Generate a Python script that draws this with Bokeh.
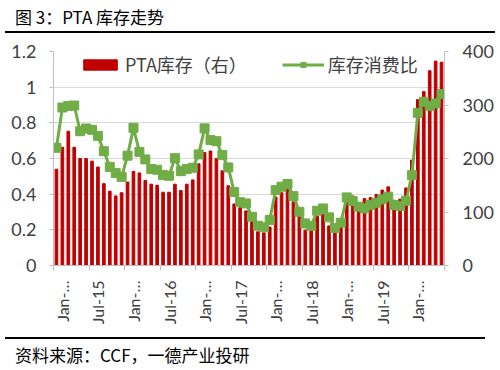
import math
from bokeh.plotting import figure
from bokeh.models import Range1d, LinearAxis, FixedTicker, CustomJSTickFormatter, Div
from bokeh.layouts import column
from bokeh.embed import file_html
from bokeh.resources import INLINE

# ---- data (monthly, Dec-14 .. May-20) ----
months = ["Dec-14",
          "Jan-15", "Feb-15", "Mar-15", "Apr-15", "May-15", "Jun-15", "Jul-15", "Aug-15", "Sep-15", "Oct-15", "Nov-15", "Dec-15",
          "Jan-16", "Feb-16", "Mar-16", "Apr-16", "May-16", "Jun-16", "Jul-16", "Aug-16", "Sep-16", "Oct-16", "Nov-16", "Dec-16",
          "Jan-17", "Feb-17", "Mar-17", "Apr-17", "May-17", "Jun-17", "Jul-17", "Aug-17", "Sep-17", "Oct-17", "Nov-17", "Dec-17",
          "Jan-18", "Feb-18", "Mar-18", "Apr-18", "May-18", "Jun-18", "Jul-18", "Aug-18", "Sep-18", "Oct-18", "Nov-18", "Dec-18",
          "Jan-19", "Feb-19", "Mar-19", "Apr-19", "May-19", "Jun-19", "Jul-19", "Aug-19", "Sep-19", "Oct-19", "Nov-19", "Dec-19",
          "Jan-20", "Feb-20", "Mar-20", "Apr-20", "May-20"]

# PTA inventory (right axis)
pta_inventory = [180,
                 221, 251, 221, 200, 200, 195, 184, 153, 139, 130, 136, 156,
                 176, 173, 159, 152, 150, 137, 137, 152, 140, 152, 160, 190,
                 211, 214, 200, 177, 149, 115, 108, 102, 82, 63, 61, 72,
                 128, 136, 142, 119, 100, 66, 65, 92, 96, 74, 66, 76,
                 133, 130, 111, 125, 127, 133, 141, 147, 122, 124, 145, 197,
                 310, 325, 364, 382, 380]

# inventory / consumption ratio (left axis)
stock_ratio = [0.66,
               0.886, 0.895, 0.897, 0.753, 0.768, 0.761, 0.727, 0.641, 0.553, 0.518, 0.497, 0.616,
               0.772, 0.637, 0.595, 0.541, 0.537, 0.507, 0.503, 0.602, 0.529, 0.541, 0.548, 0.623,
               0.769, 0.703, 0.697, 0.619, 0.55, 0.412, 0.355, 0.348, 0.273, 0.223, 0.214, 0.255,
               0.423, 0.442, 0.457, 0.389, 0.301, 0.236, 0.221, 0.307, 0.32, 0.27, 0.21, 0.24,
               0.382, 0.361, 0.33, 0.32, 0.339, 0.352, 0.371, 0.386, 0.339, 0.333, 0.363, 0.507,
               0.856, 0.918, 0.894, 0.909, 0.961]

tick_months = ["Jan-15", "Jul-15", "Jan-16", "Jul-16", "Jan-17", "Jul-17",
               "Jan-18", "Jul-18", "Jan-19", "Jul-19", "Jan-20"]
tick_labels = ["Jan-…", "Jul-15", "Jan-…", "Jul-16", "Jan-…", "Jul-17",
               "Jan-…", "Jul-18", "Jan-…", "Jul-19", "Jan-…"]
left_ticks = [0, 0.2, 0.4, 0.6, 0.8, 1.0, 1.2]
right_ticks = [0, 100, 200, 300, 400]

bar_label = "PTA库存（右）"
line_label = "库存消费比"
title_text = "图 3：PTA 库存走势"
source_text = "资料来源：CCF，一德产业投研"

# ---- build ----
xs = list(range(len(months)))
tick_idx = [months.index(m) for m in tick_months]
boundaries = [i - 0.5 for i in range(0, len(months) + 1, 6)]

NUM_FONT = "Lato"
CJK_FONT = "Noto Sans CJK SC"
TXT = "#404040"
AX = "#bfbfbf"

p = figure(width=496, height=300, x_range=Range1d(-0.5, len(months) - 0.5),
           y_range=Range1d(0, 1.2), output_backend="svg", toolbar_location=None,
           min_border_left=53, min_border_right=50, min_border_top=17, min_border_bottom=69)
p.extra_y_ranges = {"right": Range1d(0, 400)}

p.vbar(x=xs, top=pta_inventory, width=0.45, color="#c00000",
       y_range_name="right", legend_label=bar_label)
p.line(xs, stock_ratio, color="#70ad47", line_width=3, legend_label=line_label)
p.scatter(xs, stock_ratio, marker="square", size=9, color="#70ad47", legend_label=line_label)

# x axis
xa = p.xaxis[0]
xa.ticker = FixedTicker(ticks=tick_idx, minor_ticks=boundaries)
xa.major_label_overrides = {i: l for i, l in zip(tick_idx, tick_labels)}
xa.major_label_orientation = math.pi / 2
xa.major_tick_line_color = None
xa.major_tick_out = 0
xa.major_tick_in = 0
xa.minor_tick_out = 5
xa.minor_tick_in = 0
xa.minor_tick_line_color = AX
xa.axis_line_color = AX
xa.major_label_text_font = NUM_FONT
xa.major_label_text_font_size = "16px"
xa.major_label_text_color = TXT
xa.major_label_standoff = 10

# left axis
ya = p.yaxis[0]
ya.ticker = FixedTicker(ticks=left_ticks)
ya.formatter = CustomJSTickFormatter(code="return (Math.round(tick*10)/10).toString();")
ya.major_tick_out = 4
ya.major_tick_in = 0
ya.minor_tick_line_color = None
ya.major_tick_line_color = AX
ya.axis_line_color = AX
ya.major_label_text_font = NUM_FONT
ya.major_label_text_font_size = "18px"
ya.major_label_text_color = TXT
ya.major_label_standoff = 13

# right axis
ra = LinearAxis(y_range_name="right", ticker=FixedTicker(ticks=right_ticks))
ra.major_tick_out = 4
ra.major_tick_in = 0
ra.minor_tick_line_color = None
ra.major_tick_line_color = AX
ra.axis_line_color = AX
ra.major_label_text_font = NUM_FONT
ra.major_label_text_font_size = "18px"
ra.major_label_text_color = TXT
ra.major_label_standoff = 14
p.add_layout(ra, "right")

p.xgrid.visible = False
p.ygrid.ticker = FixedTicker(ticks=left_ticks)
p.ygrid.grid_line_color = "#d9d9d9"
p.outline_line_color = None

lg = p.legend[0]
lg.orientation = "horizontal"
lg.location = (26, 188)
lg.background_fill_alpha = 0
lg.border_line_alpha = 0
lg.label_text_font = CJK_FONT
lg.label_text_font_size = "18px"
lg.label_text_color = TXT
lg.glyph_width = 42
lg.glyph_height = 13
lg.label_height = 26
lg.label_standoff = 4
lg.spacing = 35
lg.padding = 0
lg.margin = 0

title_div = Div(
    text=('<div style="font-family:\'Noto Sans CJK SC\';font-size:17px;line-height:17px;'
          'color:#000;margin-left:5px;padding:8px 0 0 10px;height:23px;'
          'border-bottom:2px solid #000;width:480px;box-sizing:content-box;">'
          + title_text + '</div>'),
    width=496, height=34, margin=(0, 0, 0, 0))

footer_div = Div(
    text=('<div style="margin:3px 0 0 5px;border-top:2px solid #000;width:480px;"></div>'
          '<div style="font-family:\'Noto Sans CJK SC\';font-size:17px;line-height:17px;'
          'color:#000;padding:7px 0 0 15px;">' + source_text + '</div>'),
    width=496, height=34, margin=(0, 0, 0, 0))

layout = column(title_div, p, footer_div, spacing=0)

open("out.html", "w").write(file_html(layout, INLINE))
